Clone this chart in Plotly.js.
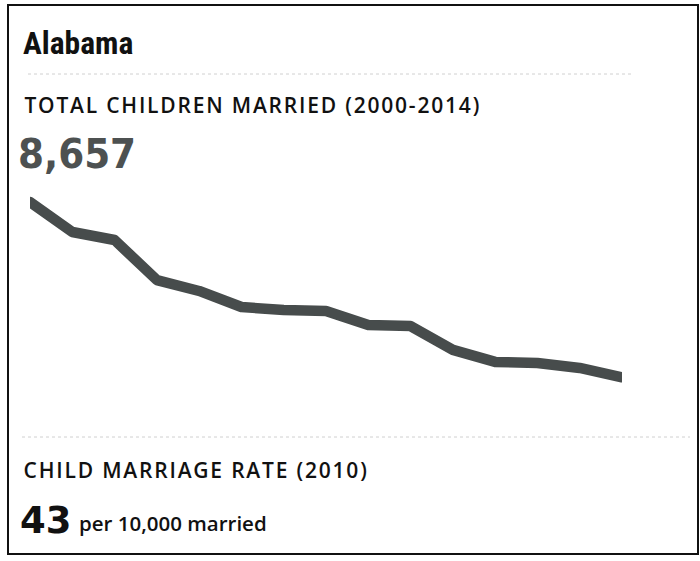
<!DOCTYPE html>
<html><head><meta charset="utf-8">
<script src="https://cdn.plot.ly/plotly-3.0.1.min.js"></script>
<style>
html,body{margin:0;padding:0;background:#fff;}
#chart{width:700px;height:561px;}
.annotation[data-index="1"] text, .annotation[data-index="3"] text {letter-spacing: 1.8px;}
.scatterlayer path.js-line {stroke-linecap: round; stroke-linejoin: round;}
</style>
</head><body><div id="chart"></div>
<script>
// Data
var years = [2000,2001,2002,2003,2004,2005,2006,2007,2008,2009,2010,2011,2012,2013,2014];
var childrenMarried = [1061,926,890,710,661,589,575,571,508,503,396,342,337,315,273];
var stateName = "Alabama";
var totalLabel = "TOTAL CHILDREN MARRIED (2000-2014)";
var totalValue = "8,657";
var rateLabel = "CHILD MARRIAGE RATE (2010)";
var rateValue = "43";
var rateUnit = "per 10,000 married";

var W = 700, H = 561;
function px(x){return x/W;}
function py(y){return 1 - y/H;}

var trace = {
  x: years, y: childrenMarried, type: 'scatter', mode: 'lines',
  line: {color: '#474c4c', width: 10.5, shape: 'linear'},
  hoverinfo: 'skip'
};

var font = "'Open Sans', 'Noto Sans', sans-serif";
var layout = {
  width: W, height: H,
  margin: {l:0, r:0, t:0, b:0},
  paper_bgcolor: '#fff', plot_bgcolor: 'rgba(0,0,0,0)',
  showlegend: false,
  xaxis: {range: [2000, 2014], domain: [px(30), px(622)], visible: false, fixedrange: true},
  yaxis: {range: [0, 1100], domain: [py(438), py(193.3)], visible: false, fixedrange: true},
  shapes: [
    {type:'rect', xref:'paper', yref:'paper', x0:px(8), x1:px(698), y0:py(5), y1:py(554),
     line:{color:'#111', width:2}, layer:'below'},
    {type:'line', xref:'paper', yref:'paper', x0:px(28), x1:px(632), y0:py(74), y1:py(74),
     line:{color:'#d0d0d0', width:1, dash:'dot'}},
    {type:'line', xref:'paper', yref:'paper', x0:px(22), x1:px(690), y0:py(437), y1:py(437),
     line:{color:'#d0d0d0', width:1, dash:'dot'}}
  ],
  annotations: [
    {text: stateName, xref:'paper', yref:'paper', x:px(21), y:py(43), xanchor:'left', yanchor:'middle',
     showarrow:false, font:{family:"'Roboto Condensed', 'Liberation Sans Narrow', Roboto, sans-serif", size:31.5, color:'#111', weight:'bold'}},
    {text: totalLabel, xref:'paper', yref:'paper', x:px(253), y:py(105), xanchor:'center', yanchor:'middle',
     showarrow:false, font:{family:font, size:21, color:'#111', weight:600}},
    {text: totalValue, xref:'paper', yref:'paper', x:px(16), y:py(153), xanchor:'left', yanchor:'middle',
     showarrow:false, font:{family:"'DejaVu Sans Condensed', 'DejaVu Sans', sans-serif", size:41.5, color:'#4d5151', weight:'bold', stretch:'condensed'}},
    {text: rateLabel, xref:'paper', yref:'paper', x:px(196), y:py(470), xanchor:'center', yanchor:'middle',
     showarrow:false, font:{family:font, size:21, color:'#111', weight:600}},
    {text: rateValue, xref:'paper', yref:'paper', x:px(18), y:py(520), xanchor:'left', yanchor:'middle',
     showarrow:false, font:{family:"'DejaVu Sans', sans-serif", size:37, color:'#111', weight:'bold'}},
    {text: rateUnit, xref:'paper', yref:'paper', x:px(77), y:py(523), xanchor:'left', yanchor:'middle',
     showarrow:false, font:{family:font, size:20.5, color:'#111', weight:600}}
  ]
};
Plotly.newPlot('chart', [trace], layout, {staticPlot:true, displayModeBar:false});
</script></body></html>
